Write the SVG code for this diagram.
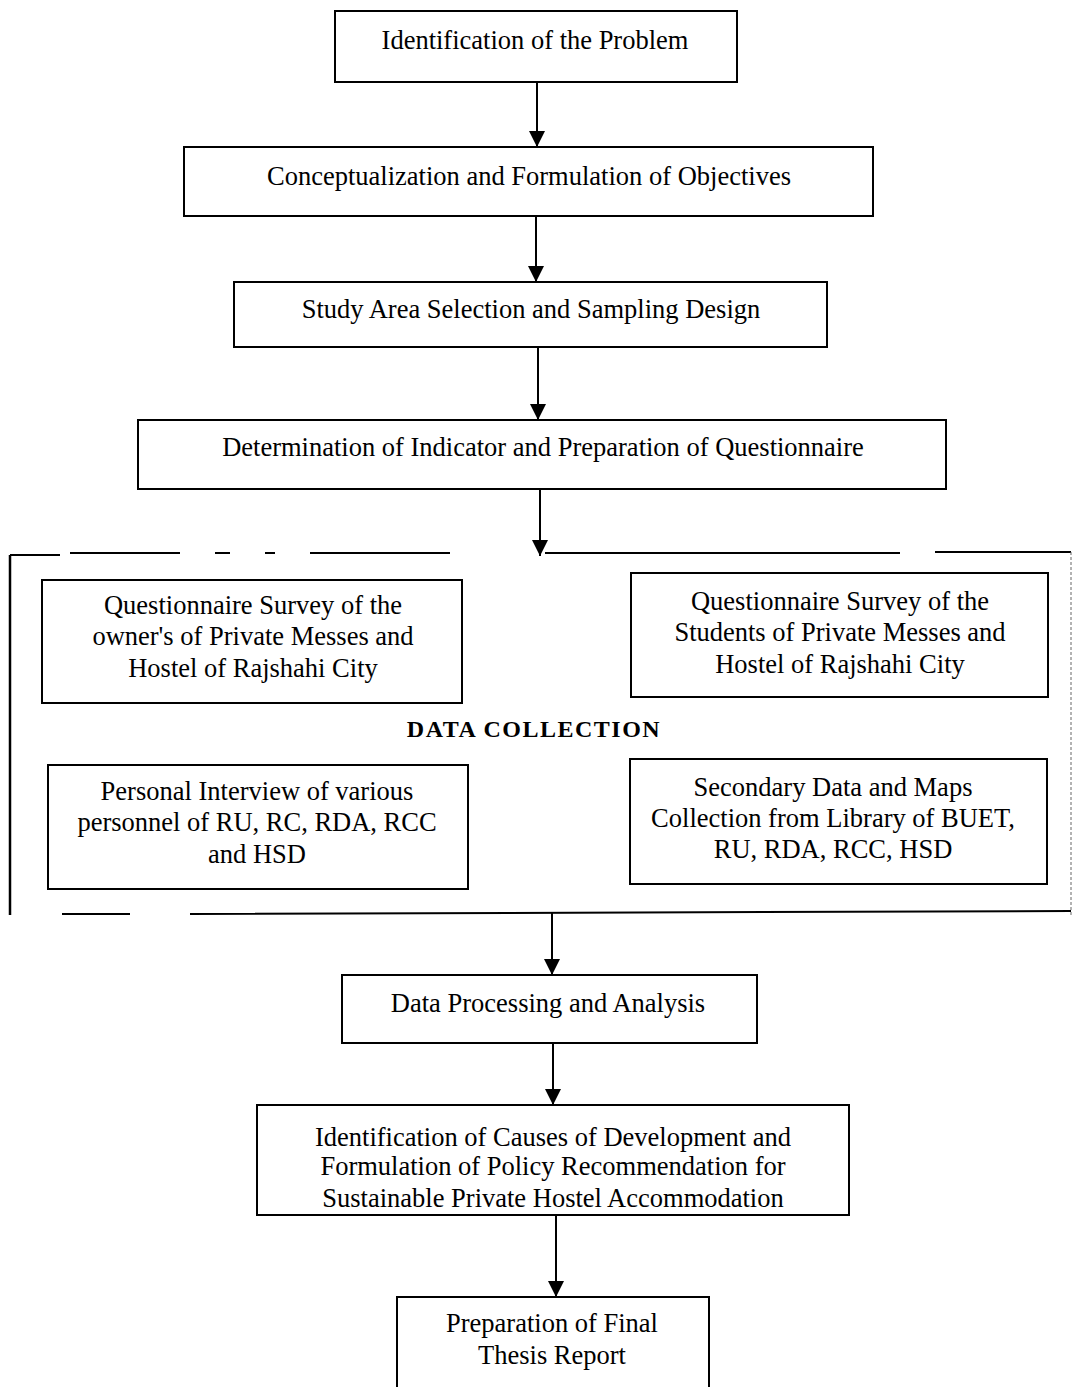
<svg xmlns="http://www.w3.org/2000/svg" width="1073" height="1387" viewBox="0 0 1073 1387">
<style>
.box{fill:#fff;stroke:#000;stroke-width:2}
.t{font-family:"Liberation Serif","Times New Roman",serif;font-size:26.5px;fill:#000;text-anchor:middle}
.b{font-family:"Liberation Serif","Times New Roman",serif;font-size:24px;font-weight:bold;fill:#000;text-anchor:middle;letter-spacing:1.5px}
.c{stroke:#000;stroke-width:2;fill:none}
</style>
<defs>
<marker id="arr" markerWidth="16" markerHeight="20" refX="16" refY="8" orient="auto" markerUnits="userSpaceOnUse" viewBox="0 0 16 20">
<path d="M0,0 L16,8 L0,16 Z" fill="#000"/>
</marker>
</defs>
<rect width="1073" height="1387" fill="#fff"/>

<g id="data-collection">
<path d="M10,555 L60,555 M70,553 L180,553 M215,553 L230,553 M265,553 L275,553 M310,553 L450,553" stroke="#000" stroke-width="2" fill="none"/>
<path d="M545,553 L900,553 M935,552 L1071,552" stroke="#000" stroke-width="2" fill="none"/>
<path d="M10,555 L10,915" stroke="#000" stroke-width="2.5" fill="none"/>
<path d="M1071,552 L1071,915" stroke="#666" stroke-width="1" stroke-dasharray="3,2" fill="none"/>
<path d="M62,914 L130,914 M190,914 L1071,911" stroke="#000" stroke-width="2" fill="none"/>
<text class="b" x="534" y="737">DATA COLLECTION</text>
</g>

<g id="n1"><rect class="box" x="335" y="11" width="402" height="71"/><text class="t" x="535" y="49">Identification of the Problem</text></g>
<g id="n2"><rect class="box" x="184" y="147" width="689" height="69"/><text class="t" x="529" y="185">Conceptualization and Formulation of Objectives</text></g>
<g id="n3"><rect class="box" x="234" y="282" width="593" height="65"/><text class="t" x="531" y="318">Study Area Selection and Sampling Design</text></g>
<g id="n4"><rect class="box" x="138" y="420" width="808" height="69"/><text class="t" x="543" y="456">Determination of Indicator and Preparation of Questionnaire</text></g>

<g id="n5"><rect class="box" x="42" y="580" width="420" height="123"/><text class="t" x="253" y="614">Questionnaire Survey of the</text><text class="t" x="253" y="645">owner's of Private Messes and</text><text class="t" x="253" y="677">Hostel of Rajshahi City</text></g>
<g id="n6"><rect class="box" x="631" y="573" width="417" height="124"/><text class="t" x="840" y="610">Questionnaire Survey of the</text><text class="t" x="840" y="641">Students of Private Messes and</text><text class="t" x="840" y="673">Hostel of Rajshahi City</text></g>
<g id="n7"><rect class="box" x="48" y="765" width="420" height="124"/><text class="t" x="257" y="800">Personal Interview of various</text><text class="t" x="257" y="831">personnel of RU, RC, RDA, RCC</text><text class="t" x="257" y="863">and HSD</text></g>
<g id="n8"><rect class="box" x="630" y="759" width="417" height="125"/><text class="t" x="833" y="796">Secondary Data and Maps</text><text class="t" x="833" y="827">Collection from Library of BUET,</text><text class="t" x="833" y="858">RU, RDA, RCC, HSD</text></g>

<g id="n9"><rect class="box" x="342" y="975" width="415" height="68"/><text class="t" x="548" y="1012">Data Processing and Analysis</text></g>
<g id="n10"><rect class="box" x="257" y="1105" width="592" height="110"/><text class="t" x="553" y="1146">Identification of Causes of Development and</text><text class="t" x="553" y="1175">Formulation of Policy Recommendation for</text><text class="t" x="553" y="1207">Sustainable Private Hostel Accommodation</text></g>
<g id="n11"><path d="M397,1388 L397,1297 L709,1297 L709,1388" class="box"/><text class="t" x="552" y="1332">Preparation of Final</text><text class="t" x="552" y="1364">Thesis Report</text></g>

<g id="connectors">
<line class="c" x1="537" y1="82" x2="537" y2="147" marker-end="url(#arr)"/>
<line class="c" x1="536" y1="216" x2="536" y2="282" marker-end="url(#arr)"/>
<line class="c" x1="538" y1="347" x2="538" y2="420" marker-end="url(#arr)"/>
<line class="c" x1="540" y1="489" x2="540" y2="556" marker-end="url(#arr)"/>
<line class="c" x1="552" y1="912" x2="552" y2="975" marker-end="url(#arr)"/>
<line class="c" x1="553" y1="1043" x2="553" y2="1105" marker-end="url(#arr)"/>
<line class="c" x1="556" y1="1215" x2="556" y2="1297" marker-end="url(#arr)"/>
</g>
</svg>
